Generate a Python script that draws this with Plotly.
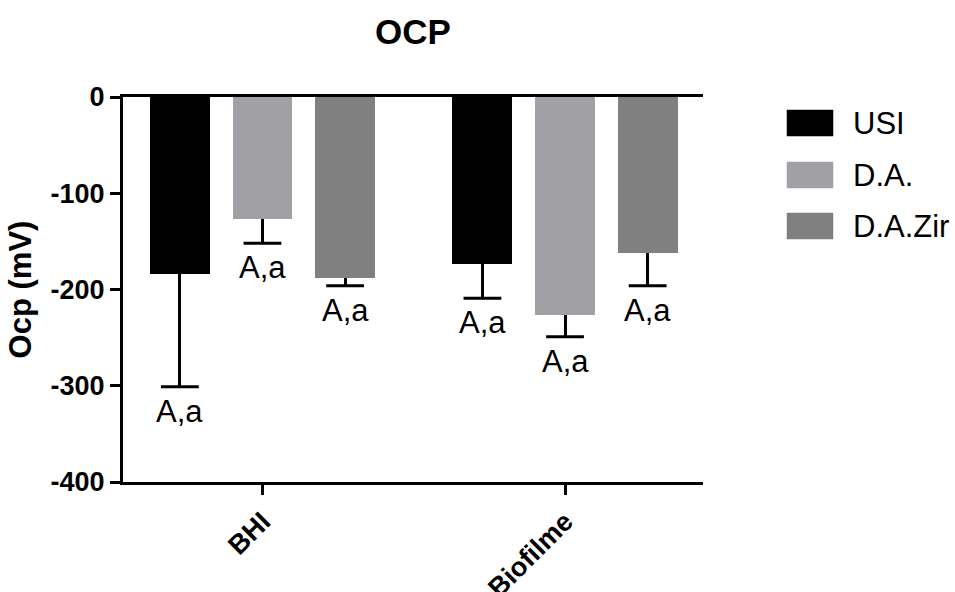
import plotly.graph_objects as go

# ---- data ----
groups = ["BHI", "Biofilme"]
series = ["USI", "D.A.", "D.A.Zir"]
usi_mean = [-184, -173]
da_mean = [-127, -227]
dazir_mean = [-188, -162]
usi_sd = [117, 36]
da_sd = [25, 22]
dazir_sd = [8, 34]
usi_letters = ["A,a", "A,a"]
da_letters = ["A,a", "A,a"]
dazir_letters = ["A,a", "A,a"]
y_ticks = [0, -100, -200, -300, -400]
y_tick_text = ["0", "-100", "-200", "-300", "-400"]

means = [usi_mean, da_mean, dazir_mean]
sds = [usi_sd, da_sd, dazir_sd]
letters = [usi_letters, da_letters, dazir_letters]
colors = ["#000000", "#a1a1a5", "#808080"]

FONT = "Arial, 'Liberation Sans', sans-serif"
W, H = 955, 592
ML, MR, MT, MB = 123, 252, 97, 110
PW, PH = W - ML - MR, H - MT - MB

BAR_STEP = 0.273   # distance between bars inside a group (group spacing = 1)
BAR_W = 0.198


def xpaper(px):
    return (px - ML) / PW


def ypaper(py):
    return (H - MB - py) / PH


fig = go.Figure()
for i, name in enumerate(series):
    xs = [g + (i - 1) * BAR_STEP for g in range(len(groups))]
    fig.add_trace(go.Bar(
        x=xs, y=means[i], width=BAR_W, name=name,
        marker=dict(color=colors[i], line=dict(width=0)),
        error_y=dict(type="data", symmetric=False,
                     array=[0] * len(groups), arrayminus=sds[i],
                     thickness=3, width=0, color="black"),
        showlegend=False,
    ))
    lows = [m - s for m, s in zip(means[i], sds[i])]
    # caps at the far end of each error bar
    fig.add_trace(go.Scatter(
        x=xs, y=lows, mode="markers",
        marker=dict(symbol="line-ew", size=27, color="black",
                    line=dict(width=3, color="black")),
        showlegend=False, hoverinfo="skip", cliponaxis=False,
    ))
    for x, lo, txt in zip(xs, lows, letters[i]):
        fig.add_annotation(x=x, y=lo, text=txt, showarrow=False,
                           yanchor="top", yshift=-5,
                           font=dict(family=FONT, size=31, color="black"))

# legend drawn as boxes + labels
legend_tops = [110, 162, 213]
for i, name in enumerate(series):
    top = legend_tops[i]
    fig.add_shape(type="rect", xref="paper", yref="paper",
                  x0=xpaper(787), x1=xpaper(833),
                  y0=ypaper(top), y1=ypaper(top + 26),
                  fillcolor=colors[i], line=dict(width=0.5, color=colors[i]))
    fig.add_annotation(xref="paper", yref="paper",
                       x=xpaper(851), y=ypaper(top + 13),
                       xanchor="left", yanchor="middle", text=name,
                       showarrow=False,
                       font=dict(family=FONT, size=31, color="black"))

fig.update_layout(
    width=W, height=H,
    margin=dict(l=ML, r=MR, t=MT, b=MB, autoexpand=False),
    paper_bgcolor="white", plot_bgcolor="white",
    font=dict(family=FONT, color="black"),
    title=dict(text="<b>OCP</b>", x=413 / W,
               xanchor="center", y=1 - 32 / H, yanchor="middle",
               font=dict(family=FONT, size=35, color="black")),
    bargap=0,
)
fig.update_xaxes(
    range=[-0.461, 1.456], tickvals=list(range(len(groups))),
    ticktext=["<b>%s</b>" % g for g in groups], tickangle=-45,
    tickfont=dict(family=FONT, size=27, color="black"),
    showline=True, linewidth=3, linecolor="black", mirror=True,
    ticks="outside", ticklen=10, tickwidth=3, tickcolor="black",
    showgrid=False, zeroline=False, automargin=False,
)
fig.update_yaxes(
    range=[-400, 0], tickvals=y_ticks,
    ticktext=["<b>%s</b>" % t for t in y_tick_text],
    tickfont=dict(family=FONT, size=27, color="black"),
    showline=True, linewidth=3, linecolor="black",
    ticks="outside", ticklen=10, tickwidth=3, tickcolor="black",
    showgrid=False, zeroline=False, automargin=False,
    title=dict(text="<b>Ocp (mV)</b>", standoff=10,
               font=dict(family=FONT, size=31, color="black")),
)

fig.write_html("out.html")
